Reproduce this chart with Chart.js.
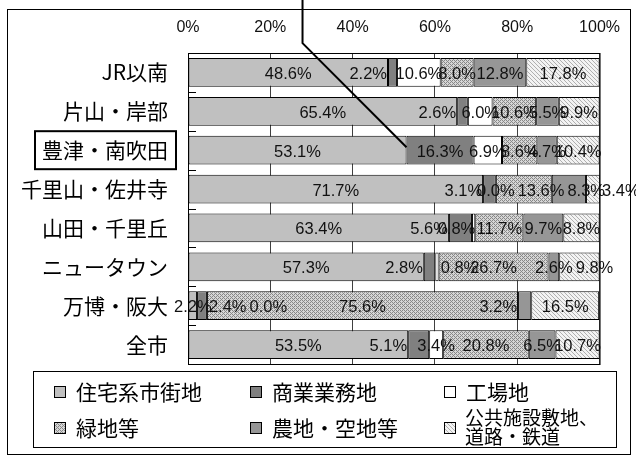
<!DOCTYPE html>
<html>
<head>
<meta charset="utf-8">
<script src="https://cdn.jsdelivr.net/npm/chart.js@4.4.1/dist/chart.umd.min.js"></script>
<style>
  html, body { margin: 0; padding: 0; background: #fff; }
  #chart { display: block; }
</style>
</head>
<body>
<canvas id="chart" width="636" height="455"></canvas>
<script>
// land use share by district (%)
const categories = ['JR以南', '片山・岸部', '豊津・南吹田', '千里山・佐井寺', '山田・千里丘', 'ニュータウン', '万博・阪大', '全市'];
const seriesNames = ['住宅系市街地', '商業業務地', '工場地', '緑地等', '農地・空地等', ['公共施設敷地、', '道路・鉄道']];
const residential = [48.6, 65.4, 53.1, 71.7, 63.4, 57.3, 2.2, 53.5];
const commercial  = [2.2, 2.6, 16.3, 3.1, 5.6, 2.8, 2.4, 5.1];
const industrial  = [10.6, 6.0, 6.9, 0.0, 0.8, 0.8, 0.0, 3.4];
const green       = [8.0, 10.6, 8.6, 13.6, 11.7, 26.7, 75.6, 20.8];
const farmland    = [12.8, 5.5, 4.7, 8.3, 9.7, 2.6, 3.2, 6.5];
const publicLand  = [17.8, 9.9, 10.4, 3.4, 8.8, 9.8, 16.5, 10.7];
const tickValues  = [0, 20, 40, 60, 80, 100];
const highlighted = '豊津・南吹田';

const JP = '"Noto Sans CJK JP", sans-serif';
const LAT = '"Liberation Sans", Arial, sans-serif';

// where a narrow segment's label sits: row-series
const labelAnchor = {
  '0-1': 'before', '1-1': 'before', '3-1': 'before', '3-5': 'after',
  '4-1': 'before', '4-2': 'end', '5-1': 'before', '5-2': 'after',
  '6-1': 'after', '6-4': 'before', '7-1': 'before'
};

function hatch(bg, fg, fn) {
  const c = document.createElement('canvas');
  c.width = 4; c.height = 4;
  const g = c.getContext('2d');
  g.fillStyle = bg;
  g.fillRect(0, 0, 4, 4);
  g.fillStyle = fg;
  for (let x = 0; x < 4; x++) {
    for (let y = 0; y < 4; y++) {
      if (fn(x, y)) g.fillRect(x, y, 1, 1);
    }
  }
  return g.createPattern(c, 'repeat');
}

const ctx0 = document.getElementById('chart').getContext('2d');
const greenFill = hatch('#d6d6d6', '#888888', (x, y) => (x + y) % 4 === 0 || ((x + y) % 4 === 2 && x % 2 === 0));
const publicFill = hatch('#f3f3f3', '#b0b0b0', (x, y) => (x - y + 8) % 4 === 0);

const fills = ['#c0c0c0', '#808080', '#ffffff', greenFill, '#969696', publicFill];
const values = [residential, commercial, industrial, green, farmland, publicLand];

const segLabels = {
  id: 'segLabels',
  afterDatasetsDraw(chart) {
    const ctx = chart.ctx;
    ctx.save();
    ctx.font = '16.5px ' + LAT;
    ctx.fillStyle = '#111';
    ctx.textBaseline = 'middle';
    ctx.textAlign = 'left';
    categories.forEach((cat, row) => {
      let prevRight = -Infinity;
      chart.data.datasets.forEach((ds, s) => {
        const el = chart.getDatasetMeta(s).data[row];
        const text = ds.data[row].toFixed(1) + '%';
        const w = ctx.measureText(text).width;
        const x0 = Math.min(el.base, el.x), x1 = Math.max(el.base, el.x);
        const mode = labelAnchor[row + '-' + s] || 'center';
        let left;
        if (mode === 'before') left = x0 - 1 - w;
        else if (mode === 'after') left = x1 + 2;
        else if (mode === 'end') left = x1 - w;
        else left = (x0 + x1) / 2 - w / 2;
        if (left < prevRight - 12) left = prevRight + 3;
        ctx.fillText(text, left, el.y + 2);
        prevRight = left + w;
      });
    });
    ctx.restore();
  }
};

const frame = {
  id: 'frame',
  afterDraw(chart) {
    const ctx = chart.ctx;
    const a = chart.chartArea;
    const ys = chart.scales.y;
    ctx.save();
    ctx.strokeStyle = '#000';

    // plot area box and inner category ticks
    ctx.lineWidth = 1;
    ctx.strokeRect(a.left + 0.5, a.top + 0.5, a.right - a.left, a.bottom - a.top);
    const step = (a.bottom - a.top) / categories.length;
    ctx.beginPath();
    for (let k = 1; k < categories.length; k++) {
      const y = Math.round(a.top + k * step) + 0.5;
      ctx.moveTo(a.left, y);
      ctx.lineTo(a.left + 8, y);
    }
    ctx.stroke();

    // outer chart border
    ctx.strokeRect(7.5, 9.5, 623, 445);

    // box round the highlighted district
    const hi = categories.indexOf(highlighted);
    const cy = ys.getPixelForValue(hi);
    ctx.font = '21px ' + JP;
    const tw = ctx.measureText(highlighted).width;
    const right = a.left - 20 + 8;
    ctx.lineWidth = 2;
    ctx.strokeRect(right - tw - 15, cy - 19, tw + 15, 38);

    // callout line to the commercial segment
    const el = chart.getDatasetMeta(1).data[hi];
    const ex = el.base, ey = el.y - 3;
    ctx.beginPath();
    ctx.moveTo(ex - 104, 0);
    ctx.lineTo(ex - 104, ey - 104);
    ctx.lineTo(ex, ey);
    ctx.stroke();

    // legend
    ctx.lineWidth = 1;
    ctx.strokeRect(33.5, 371.5, 583, 76);
    const cols = [54, 250, 444];
    const rows = [392, 428];
    ctx.textBaseline = 'middle';
    ctx.textAlign = 'left';
    chart.data.datasets.forEach((ds, i) => {
      const x = cols[i % 3], y = rows[Math.floor(i / 3)];
      ctx.fillStyle = ds.backgroundColor;
      ctx.fillRect(x, y - 6, 12, 12);
      ctx.strokeRect(x + 0.5, y - 5.5, 11, 11);
      ctx.fillStyle = '#000';
      const name = seriesNames[i];
      if (Array.isArray(name)) {
        ctx.font = '19px ' + JP;
        ctx.fillText(name[0], x + 21, y - 10);
        ctx.fillText(name[1], x + 21, y + 9);
      } else {
        ctx.font = '21px ' + JP;
        ctx.fillText(name, x + 22, y);
      }
    });
    ctx.restore();
  }
};

new Chart(ctx0, {
  type: 'bar',
  data: {
    labels: categories,
    datasets: values.map((v, i) => ({
      label: Array.isArray(seriesNames[i]) ? seriesNames[i].join('') : seriesNames[i],
      data: v,
      backgroundColor: fills[i],
      borderColor: '#000',
      borderWidth: 1,
      borderSkipped: false,
      barPercentage: 0.74,
      categoryPercentage: 1
    }))
  },
  options: {
    indexAxis: 'y',
    responsive: false,
    animation: false,
    events: [],
    layout: { padding: { left: 0, top: 0, right: 30, bottom: 91 } },
    plugins: {
      legend: { display: false },
      tooltip: { enabled: false }
    },
    scales: {
      x: {
        position: 'top',
        stacked: true,
        min: 0,
        max: 100,
        afterBuildTicks: s => { s.ticks = tickValues.map(v => ({ value: v })); },
        afterFit: s => { s.height = 53; },
        ticks: {
          padding: 16,
          color: '#111',
          font: { family: LAT, size: 16 },
          callback: v => v + '%'
        },
        grid: { color: '#404040', lineWidth: 1, drawTicks: false },
        border: { display: true, color: '#000', width: 1 }
      },
      y: {
        stacked: true,
        afterFit: s => { s.width = 188; },
        ticks: {
          padding: 20,
          color: '#000',
          font: { family: JP, size: 21 }
        },
        grid: { display: false, drawTicks: false },
        border: { display: true, color: '#000', width: 1 }
      }
    }
  },
  plugins: [segLabels, frame]
});
</script>
</body>
</html>
